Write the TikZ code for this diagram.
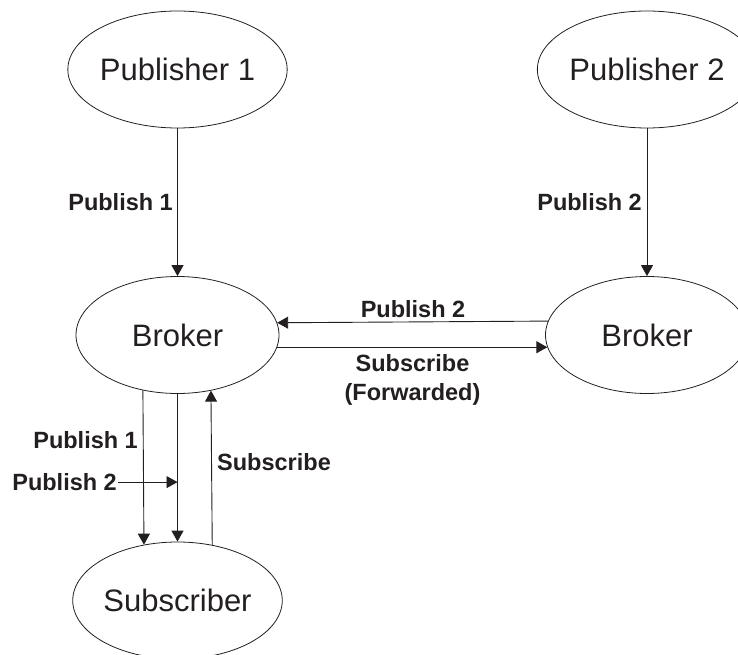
\documentclass[tikz,border=0pt]{standalone}
\usepackage{fontspec}
\setmainfont{Liberation Sans}
\usetikzlibrary{arrows.meta,shapes.geometric}
\definecolor{ink}{HTML}{231F20}

\begin{document}
\begin{tikzpicture}[x=1pt,y=-1pt,
  party/.style={ellipse, draw=ink, line width=0.8pt, minimum width=203pt,
    minimum height=117pt, inner sep=0pt, text=ink,
    font=\fontsize{31}{36}\selectfont},
  flow/.style={draw=ink, line width=0.9pt,
    -{Triangle[length=11pt,width=12pt]}},
  lbl/.style={inner sep=0pt, text=ink, font=\bfseries\fontsize{23.5}{28}\selectfont}]
\useasboundingbox (0,0) rectangle (738,655);

% participants
\node[party] (pub1) at (177.5,69.5) {Publisher 1};
\node[party] (pub2) at (647,69.5) {Publisher 2};
\node[party] (brkL) at (177.5,335) {Broker};
\node[party] (brkR) at (647,335) {Broker};
\node[party] (sub) at (177.5,600.5) {Subscriber};

% publications into the brokers
\draw[flow] (pub1) -- (brkL);
\draw[flow] (pub2) -- (brkR);

% broker to broker
\draw[flow] (brkR.172.5) -- (brkL.7.5);
\draw[flow] (brkL.-7.5) -- (brkR.187.5);

% broker and subscriber
\draw[flow] (brkL.238.5) -- (sub.121.5);
\draw[flow] (brkL.south) -- (sub.north);
\draw[flow] (sub.58.5) -- (brkL.301.5);

% labels
\node[lbl, anchor=base east] (l1) at (173,210.5) {Publish 1};
\node[lbl, anchor=base east] (l2) at (642,210.5) {Publish 2};
\node[lbl, anchor=base] (l3) at (413,317) {Publish 2};
\node[lbl, anchor=base] (l4) at (412.5,371.5) {Subscribe};
\node[lbl, anchor=base] (l5) at (412.5,400) {(Forwarded)};
\node[lbl, anchor=base east] (l6) at (138,448.3) {Publish 1};
\node[lbl, anchor=base east] (l7) at (117,490.5) {Publish 2};
\node[lbl, anchor=base west] (l8) at (217,470.5) {Subscribe};
\draw[flow] ([xshift=1pt]l7.east) -- (l7.east -| brkL.south);
\end{tikzpicture}
\end{document}
